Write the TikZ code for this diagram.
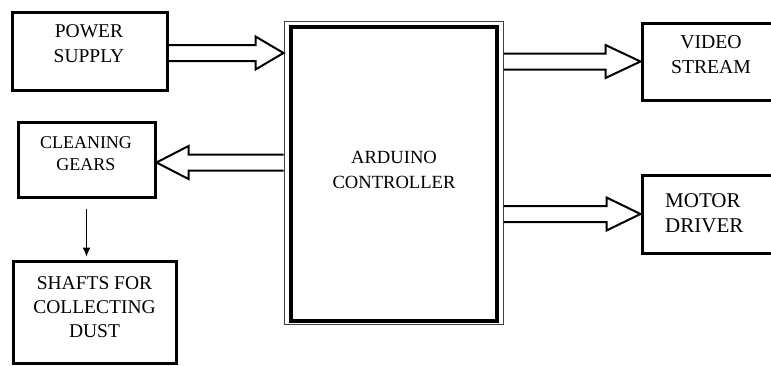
\documentclass[tikz,border=0pt]{standalone}
\usepackage{fontspec}
\setmainfont{Liberation Serif}
\usetikzlibrary{calc}
\usetikzlibrary{arrows, arrows.meta}

\newcommand{\fs}[2]{\fontsize{#1}{#2}\selectfont}
% hollow block arrow: start, tip, head length
\newcommand{\fatarrow}[3]{%
  \draw[fat] let \p1=(#1), \p2=(#2), \n1={#3*sign(\x2-\x1)} in
    (\x1,{\y1+8pt}) -- ({\x2-\n1*1pt},{\y1+8pt}) -- ({\x2-\n1*1pt},{\y1+16.5pt})
    -- (\x2,\y1) -- ({\x2-\n1*1pt},{\y1-16.5pt}) -- ({\x2-\n1*1pt},{\y1-8pt})
    -- (\x1,{\y1-8pt});}

\tikzset{
  blk/.style={draw, line width=3pt, inner sep=0pt},
  frame/.style={draw=black!75, line width=1pt, inner sep=0pt},
  txt/.style={align=center, inner sep=0pt},
  fat/.style={line width=2pt, line join=miter},
}

\begin{document}
\begin{tikzpicture}[x=1pt, y=-1pt]
\useasboundingbox (0,0) rectangle (771,365);
\begin{scope}[>={Latex[length=9pt,width=8pt]}]

\node[blk, minimum width=155pt, minimum height=78pt] (pwr) at (89.5,51) {};
\node[blk, minimum width=137pt, minimum height=75pt] (clean) at (86.5,159.5) {};
\node[blk, minimum width=163pt, minimum height=102pt] (shaft) at (94.5,312) {};
\node[blk, line width=4pt, minimum width=206pt, minimum height=294pt] (ctrl) at (393.5,174) {};
\node[frame, minimum width=219pt, minimum height=303pt] (ctrlbox) at (393.5,172.5) {};
\node[blk, minimum width=138pt, minimum height=77pt] (vid) at (711,61.5) {};
\node[blk, minimum width=138pt, minimum height=78pt] (mot) at (711,214) {};

\node[txt, font=\fs{19.5}{25}] (pwrtxt) at (89,44) {POWER\\SUPPLY};
\node[txt, font=\fs{18}{22}] (cleantxt) at (86,153.5) {CLEANING\\GEARS};
\node[txt, font=\fs{19.5}{24}] (shafttxt) at (94.5,307.5) {SHAFTS FOR\\COLLECTING\\DUST};
\node[txt, font=\fs{18.6}{25}] (ctrltxt) at (394,170) {ARDUINO\\CONTROLLER};
\node[txt, font=\fs{19.7}{25}] (vidtxt) at (711,55) {VIDEO\\STREAM};
\node[txt, align=left, anchor=west, font=\fs{21}{25}] (mottxt) at (665,213.5) {MOTOR\\DRIVER};

\coordinate (p1) at ([yshift=-2pt]pwr.east);
\coordinate (c1) at ([yshift=-3pt]clean.east);

\fatarrow{p1}{ctrlbox.west |- p1}{28}
\fatarrow{ctrlbox.west |- c1}{c1}{32}
\fatarrow{ctrlbox.east |- vid.west}{vid.west}{35}
\fatarrow{ctrlbox.east |- mot.west}{mot.west}{34}

\draw[->, line width=1pt, shorten <=10pt, shorten >=3pt] (clean.south) -- (clean.south |- shaft.north);

\end{scope}
\end{tikzpicture}
\end{document}
